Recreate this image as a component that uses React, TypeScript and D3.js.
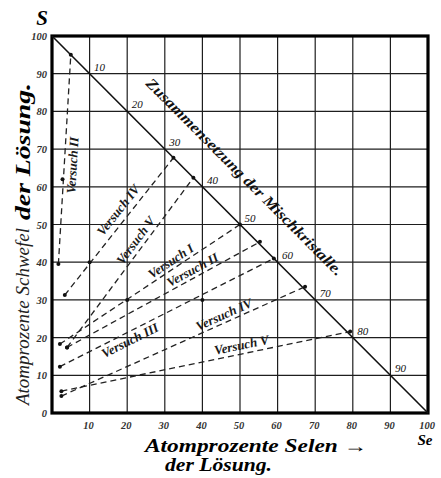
import React from "react";
import * as d3 from "d3";

const axisTicks = [0, 10, 20, 30, 40, 50, 60, 70, 80, 90, 100];
const diagonalMarks = [10, 20, 30, 40, 50, 60, 70, 80, 90];

// each Versuch: from the solution near the S axis to the crystal line
const versuchNames = ["Versuch II", "Versuch IV", "Versuch V", "Versuch I", "Versuch II", "Versuch III", "Versuch IV", "Versuch V"];
const startSe = [1.7, 3.4, 4.0, 2.1, 4.0, 2.1, 2.5, 2.5];
const startS = [39.5, 31.3, 17.4, 18.3, 17.4, 12.3, 4.5, 5.8];
const endSe = [5, 32.3, 37.6, 50, 55.3, 59, 67.3, 79.3];
const endS = [95, 67.7, 62.4, 50, 45.4, 41, 33.5, 21.6];

// measured points in between
const dotSe = [2.8, 10, 20, 40];
const dotS = [62, 40, 30, 30];

const serif = "'Liberation Serif', 'DejaVu Serif', serif";

export default function App() {
  const width = 441;
  const height = 478;
  const x = d3.scaleLinear().domain([0, 100]).range([52, 428]);
  const y = d3.scaleLinear().domain([0, 100]).range([413, 36]);
  const line = d3.line<[number, number]>().x(d => x(d[0])).y(d => y(d[1]));

  // where along the line (t) and how far off it the label sits
  const labelAt: [number, number][] = [
    [0.475, -8], [0.57, 11], [0.6, 9], [0.64, 8], [0.67, 8], [0.31, -8], [0.68, 8], [0.63, 9],
  ];

  const inner = axisTicks.slice(1, -1);

  return (
    <svg width={width} height={height} style={{ position: "absolute", left: 0, top: 0, background: "#fff" }}>
      {/* grid */}
      <g stroke="#1e1e1e" strokeWidth={1.2}>
        {inner.map(v => (
          <line key={"v" + v} x1={x(v)} x2={x(v)} y1={y(0)} y2={y(100)} />
        ))}
        {inner.map(v => (
          <line key={"h" + v} x1={x(0)} x2={x(100)} y1={y(v)} y2={y(v)} />
        ))}
      </g>
      <rect x={x(0)} y={y(100)} width={x(100) - x(0)} height={y(0) - y(100)} fill="none" stroke="#000" strokeWidth={3.2} />

      {/* Zusammensetzung der Mischkristalle */}
      <path d={line([[0, 100], [100, 0]]) || ""} stroke="#111" strokeWidth={1.6} fill="none" />
      {diagonalMarks.map(v => (
        <text key={"d" + v} x={x(v) + 10} y={y(100 - v) - 3} fontFamily={serif} fontStyle="italic" fontSize={11} textAnchor="middle" fill="#111">
          {v}
        </text>
      ))}
      <text
        transform={`translate(${x(50) + 1},${y(50) - 44}) rotate(45.1)`}
        fontFamily={serif}
        fontStyle="italic"
        fontWeight="bold"
        fontSize={15}
        textAnchor="middle"
        textLength={272}
        lengthAdjust="spacingAndGlyphs"
        fill="#111"
      >
        Zusammensetzung der Mischkristalle.
      </text>

      {/* Versuche */}
      {versuchNames.map((name, i) => {
        const p0: [number, number] = [startSe[i], startS[i]];
        const p1: [number, number] = [endSe[i], endS[i]];
        const ax = x(p0[0]), ay = y(p0[1]), bx = x(p1[0]), by = y(p1[1]);
        const ang = (Math.atan2(by - ay, bx - ax) * 180) / Math.PI;
        const [t, off] = labelAt[i];
        const lx = ax + t * (bx - ax);
        const ly = ay + t * (by - ay);
        return (
          <g key={"l" + i}>
            <path d={line([p0, p1]) || ""} stroke="#222" strokeWidth={1.3} strokeDasharray="6,4" fill="none" />
            <circle cx={ax} cy={ay} r={2} fill="#111" />
            <circle cx={bx} cy={by} r={2} fill="#111" />
            <text
              transform={`translate(${lx},${ly}) rotate(${ang})`}
              y={-off}
              dy="0.35em"
              fontFamily={serif}
              fontStyle="italic"
              fontWeight="bold"
              fontSize={13}
              textAnchor="middle"
              fill="#1a1a1a"
            >
              {name}
            </text>
          </g>
        );
      })}
      {dotSe.map((v, i) => (
        <circle key={"p" + i} cx={x(v)} cy={y(dotS[i])} r={2} fill="#111" />
      ))}

      {/* axes */}
      {axisTicks.map(v => (
        <text key={"yt" + v} x={x(0) - 5} y={y(v) + 4} fontFamily={serif} fontStyle="italic" fontWeight="bold" fontSize={10.5} textAnchor="end" fill="#333">
          {v}
        </text>
      ))}
      {axisTicks.slice(1).map(v => (
        <text key={"xt" + v} x={x(v) - 1} y={y(0) + 16} fontFamily={serif} fontStyle="italic" fontWeight="bold" fontSize={10.5} textAnchor="middle" fill="#333">
          {v}
        </text>
      ))}
      <text x={42} y={25} fontFamily={serif} fontStyle="italic" fontWeight="bold" fontSize={21} textAnchor="middle">
        S
      </text>
      <text x={425} y={445} fontFamily={serif} fontStyle="italic" fontWeight="bold" fontSize={15} textAnchor="middle">
        Se
      </text>

      <text x={145} y={452} fontFamily={serif} fontStyle="italic" fontWeight="bold" fontSize={18} textLength={222} lengthAdjust="spacingAndGlyphs">
        Atomprozente Selen →
      </text>
      <text x={165} y={471} fontFamily={serif} fontStyle="italic" fontWeight="bold" fontSize={18} textLength={107} lengthAdjust="spacingAndGlyphs">
        der Lösung.
      </text>

      <text transform="translate(29,405) rotate(-90)" fontFamily={serif} fontStyle="italic" fontSize={18} textLength={177} lengthAdjust="spacingAndGlyphs" fill="#222">
        Atomprozente Schwefel
      </text>
      <text transform="translate(30,220) rotate(-90)" fontFamily={serif} fontStyle="italic" fontWeight="bold" fontSize={21} textLength={137} lengthAdjust="spacingAndGlyphs">
        der Lösung.
      </text>
    </svg>
  );
}
